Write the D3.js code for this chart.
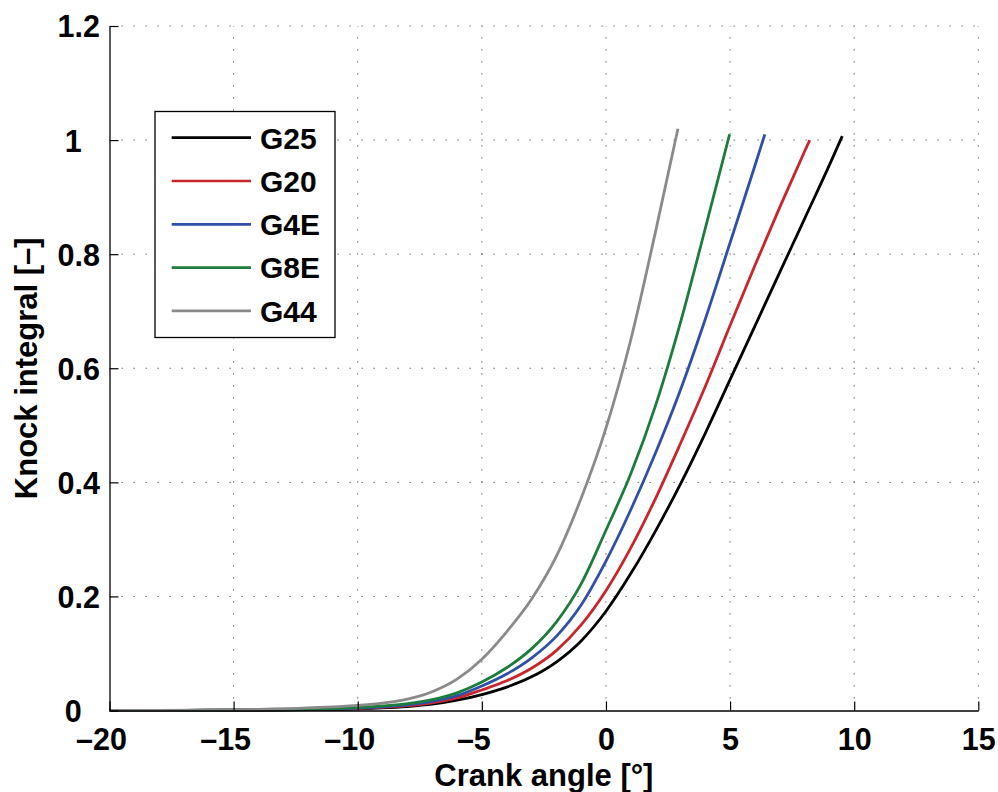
<!DOCTYPE html>
<html>
<head>
<meta charset="utf-8">
<script src="https://cdn.jsdelivr.net/npm/d3@7"></script>
<style>
  html, body { margin: 0; padding: 0; background: #fff; }
  svg { display: block; }
  text { font-family: "Liberation Sans", Arial, Helvetica, sans-serif; font-weight: bold; fill: #000; }
</style>
</head>
<body>
<svg id="chart" width="998" height="792"></svg>
<script>
// Knock integral versus crank angle for five gas compositions
const seriesNames = ["G25", "G20", "G4E", "G8E", "G44"];

const angleG25 = [-20, -18, -16, -14, -12, -10, -9, -8, -7, -6, -5, -4, -3, -2, -1, 0, 1, 2, 3, 4, 5, 6, 7, 8, 9, 9.52];
const knockG25 = [0, 0.0001, 0.0003, 0.0007, 0.0015, 0.003, 0.0045, 0.007, 0.011, 0.018, 0.028, 0.041, 0.059, 0.085, 0.122, 0.174, 0.24, 0.315, 0.397, 0.486, 0.58, 0.674, 0.768, 0.862, 0.956, 1.007];

const angleG20 = [-20, -18, -16, -14, -12, -10, -9, -8, -7, -6, -5, -4, -3, -2, -1, 0, 1, 2, 3, 4, 5, 6, 7, 8, 8.21];
const knockG20 = [0, 0.0001, 0.0004, 0.0009, 0.0018, 0.0035, 0.0055, 0.0085, 0.0135, 0.022, 0.036, 0.052, 0.074, 0.105, 0.15, 0.21, 0.285, 0.372, 0.468, 0.568, 0.675, 0.78, 0.882, 0.98, 1.0];

const angleG4E = [-20, -18, -16, -14, -12, -10, -9, -8, -7, -6, -5, -4, -3, -2, -1, 0, 1, 2, 3, 4, 5, 6, 6.4];
const knockG4E = [0, 0.0001, 0.0004, 0.001, 0.002, 0.004, 0.0065, 0.01, 0.016, 0.026, 0.043, 0.064, 0.092, 0.13, 0.185, 0.262, 0.352, 0.452, 0.562, 0.686, 0.82, 0.955, 1.01];

const angleG8E = [-20, -18, -16, -14, -12, -10, -9, -8, -7, -6, -5, -4, -3, -2, -1, 0, 1, 2, 3, 4, 4.98];
const knockG8E = [0, 0.0001, 0.0005, 0.0012, 0.0025, 0.005, 0.008, 0.012, 0.019, 0.031, 0.05, 0.075, 0.108, 0.155, 0.222, 0.316, 0.415, 0.535, 0.68, 0.845, 1.01];

const angleG44 = [-20, -18, -16, -14, -12, -10, -9, -8, -7, -6, -5, -4, -3, -2, -1, 0, 1, 2, 2.9];
const knockG44 = [0, 0.0003, 0.0009, 0.002, 0.0045, 0.009, 0.013, 0.02, 0.033, 0.055, 0.09, 0.138, 0.195, 0.27, 0.372, 0.495, 0.65, 0.84, 1.02];

const xTicks = [-20, -15, -10, -5, 0, 5, 10, 15];
const yTicks = [0, 0.2, 0.4, 0.6, 0.8, 1, 1.2];

const xLabel = "Crank angle [°]";
const yLabel = "Knock integral [–]";

// Line colours, in series order
const lineColors = ["#000000", "#c9252b", "#2f4fa8", "#1b7d3c", "#8a8a8a"];

const seriesData = [
  [angleG25, knockG25],
  [angleG20, knockG20],
  [angleG4E, knockG4E],
  [angleG8E, knockG8E],
  [angleG44, knockG44]
].map(([xs, ys], i) => ({
  name: seriesNames[i],
  color: lineColors[i],
  points: xs.map((x, j) => ({ x, y: ys[j] }))
}));

const svg = d3.select("#chart");
const W = 998, H = 792;
const margin = { left: 109.5, right: W - 978.3, top: 26, bottom: H - 710.5 };

const x = d3.scaleLinear().domain([-20, 15]).range([margin.left, W - margin.right]);
const y = d3.scaleLinear().domain([0, 1.2]).range([H - margin.bottom, margin.top]);

// Tick numbers use an en dash as the minus sign
const fmtTick = v => String(Math.round(v * 10) / 10).replace("-", "\u2013");

// Dotted grid
const grid = svg.append("g").attr("class", "grid")
  .attr("stroke", "#555").attr("stroke-width", 1).attr("stroke-dasharray", "1.3,10.7");
grid.selectAll("line.v").data(xTicks.slice(1)).join("line")
  .attr("class", "v")
  .attr("x1", d => x(d)).attr("x2", d => x(d))
  .attr("y1", y(0) - 12).attr("y2", y(1.2));
grid.selectAll("line.h").data(yTicks.slice(1)).join("line")
  .attr("class", "h")
  .attr("y1", d => y(d)).attr("y2", d => y(d))
  .attr("x1", x(-20) + 12).attr("x2", x(15));

// Curves
const line = d3.line().x(d => x(d.x)).y(d => y(d.y)).curve(d3.curveMonotoneX);
svg.append("g").selectAll("path").data(seriesData).join("path")
  .attr("d", d => line(d.points))
  .attr("fill", "none")
  .attr("stroke", d => d.color)
  .attr("stroke-width", 2.8)
  .attr("stroke-linejoin", "round");

// Axes with inward ticks
const tickFont = 30.5;
const xAxis = d3.axisBottom(x).tickValues(xTicks).tickFormat(fmtTick).tickSizeInner(-9).tickSizeOuter(0);
const yAxis = d3.axisLeft(y).tickValues(yTicks).tickFormat(fmtTick).tickSizeInner(-9).tickSizeOuter(0);

const gx = svg.append("g").attr("transform", `translate(0,${y(0)})`).call(xAxis);
const gy = svg.append("g").attr("transform", `translate(${x(-20)},0)`).call(yAxis);
[gx, gy].forEach(g => {
  g.select(".domain").attr("stroke", "#000").attr("stroke-width", 1.3);
  g.selectAll(".tick line").attr("stroke", "#000").attr("stroke-width", 1.2);
  g.selectAll(".tick text").attr("font-size", tickFont).attr("font-family", null).attr("fill", "#000");
});

// y tick numbers share a right edge; one-digit numbers keep the width of the decimals
gy.selectAll(".tick text")
  .attr("dy", "0.36em")
  .attr("text-anchor", "end")
  .attr("x", d => (fmtTick(d).length === 1 ? -27.8 : -9.5));

// x tick numbers: digits centred on the tick, the minus sign hanging to the left
gx.selectAll(".tick text")
  .attr("dy", 0).attr("y", 39.5)
  .attr("text-anchor", "start")
  .each(function () {
    const n = this.getNumberOfChars();
    const total = this.getComputedTextLength();
    const neg = this.textContent.startsWith("\u2013");
    const digits = neg ? this.getSubStringLength(1, n - 1) : total;
    d3.select(this).attr("x", -total + digits / 2);
  });

// Axis titles
const labelFont = 31;
svg.append("text")
  .attr("x", (x(-20) + x(15)) / 2).attr("y", 786)
  .attr("text-anchor", "middle").attr("font-size", labelFont)
  .text(xLabel);
svg.append("text")
  .attr("transform", `translate(36.5,${(y(0) + y(1.2)) / 2}) rotate(-90)`)
  .attr("text-anchor", "middle").attr("font-size", labelFont)
  .text(yLabel);

// Legend
const legend = svg.append("g").attr("transform", "translate(155,111.5)");
legend.append("rect").attr("width", 180).attr("height", 226)
  .attr("fill", "#fff").attr("stroke", "#000").attr("stroke-width", 1.3);
const rows = legend.selectAll("g.row").data(seriesData).join("g")
  .attr("class", "row")
  .attr("transform", (d, i) => `translate(0,${26.2 + i * 43.3})`);
rows.append("line").attr("x1", 16.7).attr("x2", 96)
  .attr("stroke", d => d.color).attr("stroke-width", 2.7);
rows.append("text").attr("x", 105).attr("dy", "0.36em").attr("font-size", 30)
  .text(d => d.name);
</script>
</body>
</html>
